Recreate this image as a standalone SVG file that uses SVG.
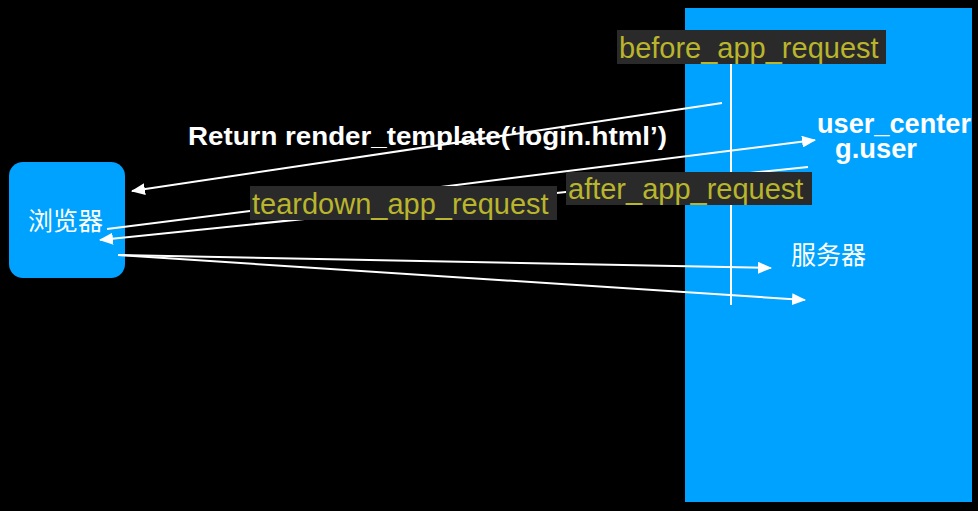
<svg xmlns="http://www.w3.org/2000/svg" width="978" height="511" viewBox="0 0 978 511">
<defs>
<style>
.blue{fill:#00A2FF}
.ln{stroke:#fff;stroke-width:2;fill:none}
.lbox{fill:#2a2a2a}
.ltxt{font-family:"Liberation Sans",Arial,sans-serif;font-size:29px;fill:#b9b52c}
.bold{font-family:"Liberation Sans",Arial,sans-serif;font-weight:bold;fill:#fff}
.cjk{font-family:"Noto Sans CJK SC","Noto Sans",sans-serif;font-size:25px;fill:#fff}
</style>
<marker id="ah" markerWidth="14" markerHeight="12" refX="13" refY="6" orient="auto" markerUnits="userSpaceOnUse">
<path d="M0,0 L14,6 L0,12 Z" fill="#fff"/>
</marker>
</defs>
<rect width="978" height="511" fill="#000"/>
<g id="server">
<rect class="blue" x="685" y="8" width="287" height="494"/>
<text class="cjk" x="791" y="264">服务器</text>
<text class="bold" x="817" y="133" font-size="27.5" textLength="154" lengthAdjust="spacingAndGlyphs">user_center</text>
<text class="bold" x="835" y="158" font-size="27.5" textLength="82" lengthAdjust="spacingAndGlyphs">g.user</text>
</g>
<g id="browser">
<rect class="blue" x="9" y="162" width="116" height="116" rx="14"/>
<text class="cjk" x="28" y="230">浏览器</text>
</g>
<g id="connectors">
<line class="ln" x1="731" y1="64" x2="731" y2="305"/>
<line class="ln" x1="722" y1="103" x2="132" y2="191" marker-end="url(#ah)"/>
<line class="ln" x1="107" y1="229" x2="815" y2="140" marker-end="url(#ah)"/>
<line class="ln" x1="808" y1="167" x2="100" y2="240" marker-end="url(#ah)"/>
<line class="ln" x1="118" y1="255" x2="771" y2="268" marker-end="url(#ah)"/>
<line class="ln" x1="118" y1="255" x2="805" y2="300" marker-end="url(#ah)"/>
</g>
<g id="label-return">
<text class="bold" x="188" y="145" font-size="25.5" textLength="479" lengthAdjust="spacingAndGlyphs">Return render_template(‘login.html’)</text>
</g>
<g id="label-before">
<rect class="lbox" x="617" y="30" width="269" height="34"/>
<text class="ltxt" x="619" y="58">before_app_request</text>
</g>
<g id="label-teardown">
<rect class="lbox" x="250" y="186" width="307" height="34"/>
<text class="ltxt" x="252" y="214">teardown_app_request</text>
</g>
<g id="label-after">
<rect class="lbox" x="566" y="172" width="246" height="33"/>
<text class="ltxt" x="568" y="199">after_app_request</text>
</g>
</svg>
